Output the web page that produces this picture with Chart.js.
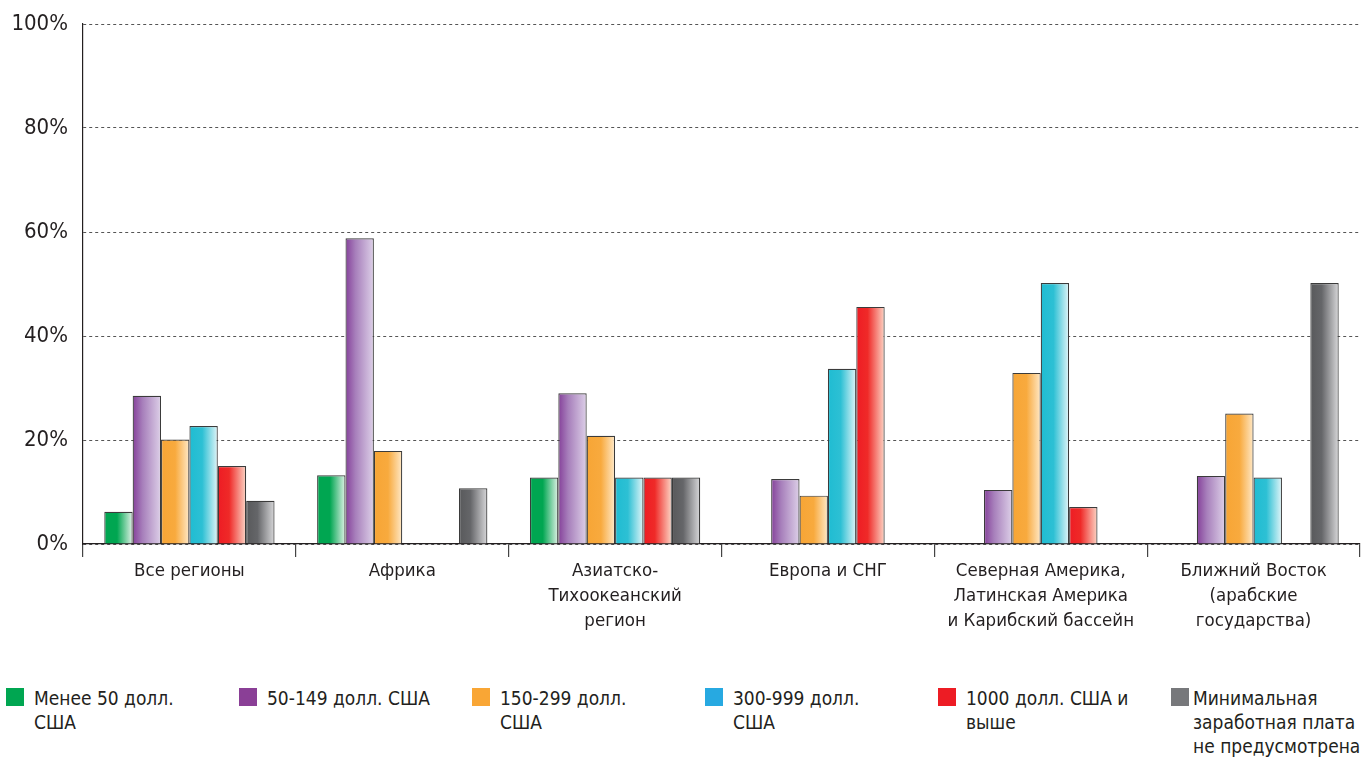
<!DOCTYPE html>
<html lang="ru">
<head>
<meta charset="utf-8">
<script src="https://cdn.jsdelivr.net/npm/chart.js@4/dist/chart.umd.min.js"></script>
<style>
  html, body { margin: 0; padding: 0; background: #fff; }
  body { width: 1370px; height: 758px; position: relative; overflow: hidden;
         font-family: 'DejaVu Sans Condensed', sans-serif; color: #231f20; }
  #wrap { position: absolute; left: 0; top: 0; width: 1370px; height: 680px; }
  #legend { position: absolute; left: 6px; top: 686px; display: flex; }
  .item { width: 233px; display: flex; align-items: flex-start; }
  .sw { width: 18px; height: 18px; flex: none; margin-top: 2px; margin-right: 10px; }
  .item.last .sw { margin-right: 4px; }
  .txt { font-size: 19px; line-height: 24px; white-space: nowrap; }
</style>
</head>
<body>
<div id="wrap"><canvas id="chart"></canvas></div>
<div id="legend"></div>
<script>
const categories = [
  'Все регионы',
  'Африка',
  ['Азиатско-', 'Тихоокеанский', 'регион'],
  'Европа и СНГ',
  ['Северная Америка,', 'Латинская Америка', 'и Карибский бассейн'],
  ['Ближний Восток', '(арабские', 'государства)'],
];

const seriesNames = [
  ['Менее 50 долл.', 'США'],
  ['50-149 долл. США'],
  ['150-299 долл.', 'США'],
  ['300-999 долл.', 'США'],
  ['1000 долл. США и', 'выше'],
  ['Минимальная', 'заработная плата', 'не предусмотрена'],
];

// доли, %
const under50 = [6.2, 13.2, 12.8, null, null, null];
const from50 = [28.5, 58.8, 29.0, 12.5, 10.4, 13.1];
const from150 = [20.1, 17.9, 20.8, 9.3, 32.9, 25.1];
const from300 = [22.7, null, 12.8, 33.7, 50.2, 12.8];
const from1000 = [15.0, null, 12.8, 45.6, 7.1, null];
const noMinimum = [8.3, 10.7, 12.8, null, null, 50.2];

const yTicks = [0, 20, 40, 60, 80, 100];

const legendColors = ['#00a651', '#8a3f96', '#f9a635', '#27a9e1', '#ed1c24', '#77787b'];
// [цвет слева, цвет в середине, позиция середины, цвет справа]
const barStops = [
  ['#00a651', '#00a651', 0.45, '#e2f2e7'],
  ['#85409a', '#a77fbb', 0.35, '#ddd0e8'],
  ['#f7a535', '#f8aa3e', 0.5, '#ffe9c8'],
  ['#1fbcd2', '#2dc0d4', 0.45, '#e2f5f8'],
  ['#ee1c24', '#ef2a28', 0.4, '#fcd6c6'],
  ['#58595b', '#656669', 0.4, '#d8d8da'],
];

const seriesData = [under50, from50, from150, from300, from1000, noMinimum];

// горизонтальная заливка столбцов: насыщенный цвет слева, светлый справа
const gradientBars = {
  id: 'gradientBars',
  beforeDatasetsDraw(chart) {
    const ctx = chart.ctx;
    chart.data.datasets.forEach((ds, di) => {
      const [c0, c1, pos, c2] = barStops[di];
      chart.getDatasetMeta(di).data.forEach(bar => {
        if (!isFinite(bar.x) || !isFinite(bar.width)) return;
        const g = ctx.createLinearGradient(bar.x - bar.width / 2, 0, bar.x + bar.width / 2, 0);
        g.addColorStop(0, c0);
        g.addColorStop(pos, c1);
        g.addColorStop(1, c2);
        bar.options.backgroundColor = g;
      });
    });
  }
};

const FONT = "'DejaVu Sans Condensed', sans-serif";

new Chart(document.getElementById('chart'), {
  type: 'bar',
  data: {
    labels: categories,
    datasets: seriesData.map((d, i) => ({
      label: seriesNames[i].join(' '),
      data: d,
      backgroundColor: () => legendColors[i],
      borderColor: '#3b3b3b',
      borderWidth: 1.2,
      categoryPercentage: 0.8,
      barPercentage: 1.0,
    })),
  },
  options: {
    responsive: true,
    maintainAspectRatio: false,
    animation: false,
    layout: { padding: { top: 24, right: 10, left: 0, bottom: 0 } },
    plugins: {
      legend: { display: false },
      tooltip: { enabled: false },
    },
    scales: {
      x: {
        afterFit: s => { s.height = 136; },
        grid: { offset: true, drawOnChartArea: false, drawTicks: true, tickLength: 13, color: '#444', lineWidth: 1.2 },
        border: { color: '#231f20', width: 1.2 },
        ticks: {
          color: '#231f20',
          padding: 2,
          maxRotation: 0,
          autoSkip: false,
          font: { family: FONT, size: 18.5, lineHeight: 1.35 },
        },
      },
      y: {
        min: 0,
        max: 100,
        afterFit: s => { s.width = 83; s.paddingTop = 0; s.paddingBottom = 0; },
        afterBuildTicks: s => { s.ticks = yTicks.map(v => ({ value: v })); },
        grid: { drawTicks: false, color: '#555', lineWidth: 1 },
        border: { color: '#231f20', width: 1.2, dash: [3, 3] },
        ticks: {
          color: '#231f20',
          padding: 15,
          callback: v => v + '%',
          font: { family: FONT, size: 22 },
        },
      },
    },
  },
  plugins: [gradientBars],
});

const legend = document.getElementById('legend');
seriesNames.forEach((lines, i) => {
  const item = document.createElement('div');
  item.className = 'item' + (i === seriesNames.length - 1 ? ' last' : '');
  item.innerHTML = `<span class="sw" style="background:${legendColors[i]}"></span><span class="txt">${lines.join('<br>')}</span>`;
  legend.appendChild(item);
});
</script>
</body>
</html>
